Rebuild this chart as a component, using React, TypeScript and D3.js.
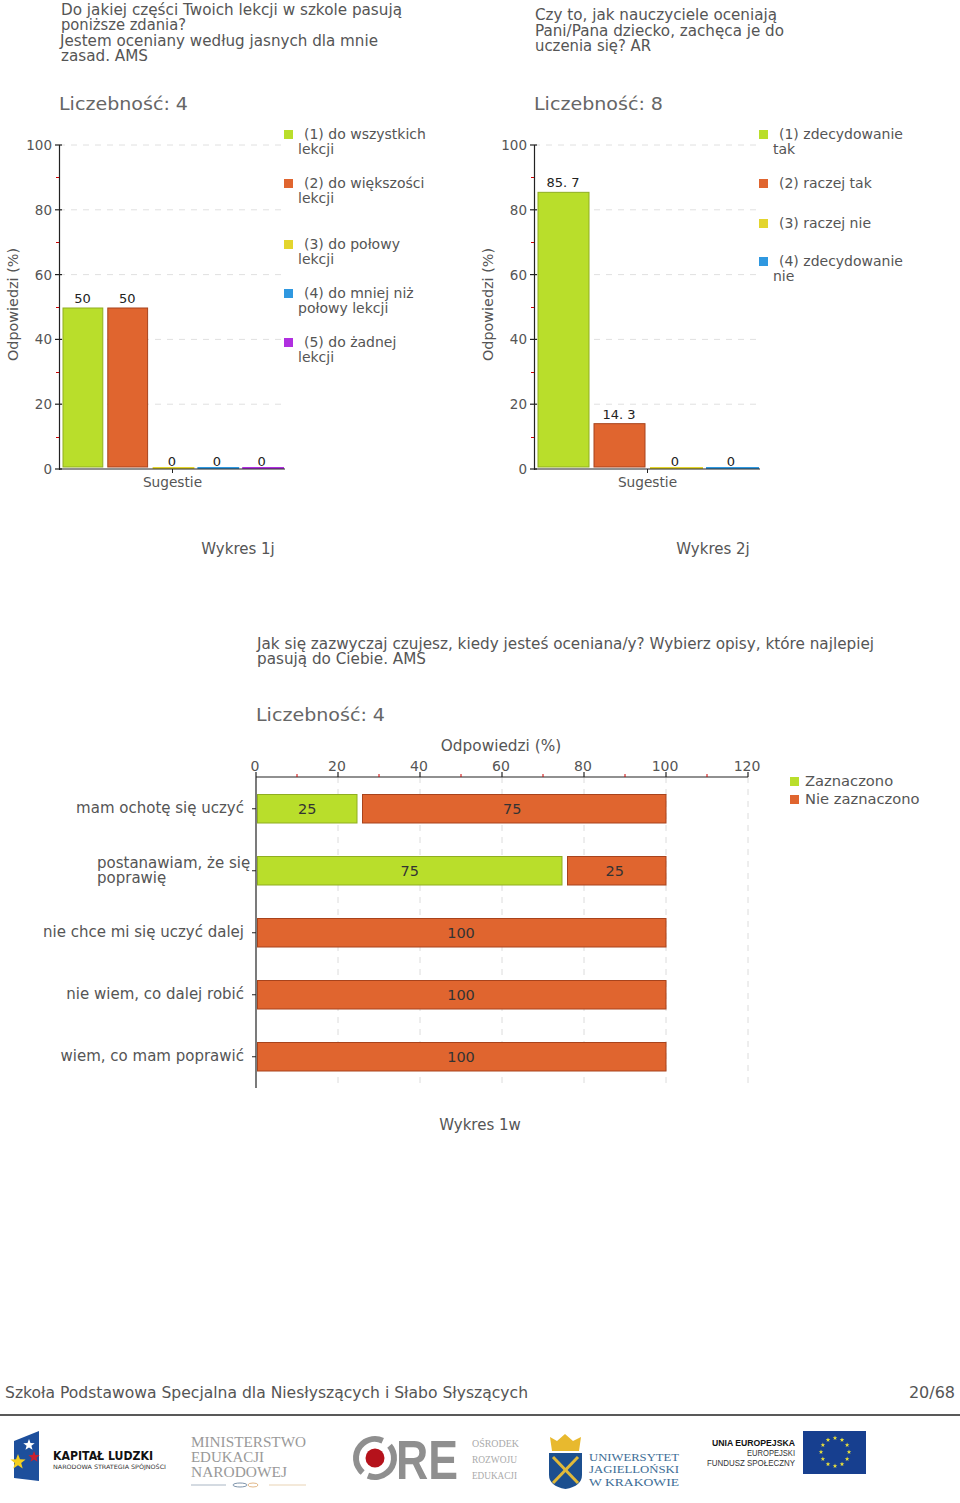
import React from "react";
import * as d3 from "d3";

const FONT = "'DejaVu Sans', Verdana, sans-serif";
const SERIF = "'Liberation Serif', serif";
const GREEN = "#b9de2b", ORANGE = "#e0652f", YELLOW = "#e3d52e", BLUE = "#2f98e0", PURPLE = "#b02fe0";
const GREEN_S = "#8fae20", ORANGE_S = "#a8431c";
const TXT = "#555";

const series1 = ["(1) do wszystkich", "(2) do większości", "(3) do połowy", "(4) do mniej niż", "(5) do żadnej"];
const values1 = [50, 50, 0, 0, 0];
const colors1 = [GREEN, ORANGE, YELLOW, BLUE, PURPLE];
const legend1Second = ["lekcji", "lekcji", "lekcji", "połowy lekcji", "lekcji"];
const legend1Y = [134, 183, 244, 293, 342];

const series2 = ["(1) zdecydowanie", "(2) raczej tak", "(3) raczej nie", "(4) zdecydowanie"];
const values2 = [85.7, 14.3, 0, 0];
const colors2 = [GREEN, ORANGE, YELLOW, BLUE];
const legend2Second = ["tak", "", "", "nie"];
const legend2Y = [134, 183, 223, 261];

const yTicks = [0, 20, 40, 60, 80, 100];
const yMinor = [10, 30, 50, 70, 90];

const cats3 = ["mam ochotę się uczyć", "postanawiam, że się|poprawię", "nie chce mi się uczyć dalej", "nie wiem, co dalej robić", "wiem, co mam poprawić"];
const checked3 = [25, 75, 0, 0, 0];
const unchecked3 = [75, 25, 100, 100, 100];
const xTicks3 = [0, 20, 40, 60, 80, 100, 120];
const xMinor3 = [10, 30, 50, 70, 90, 110];

function T({ x, y, s, size = 15.2, anchor = "start", fill = TXT, w, rot, family = FONT, weight }: any) {
  return (
    <text x={x} y={y} fontSize={size} textAnchor={anchor} fill={fill} fontFamily={family} fontWeight={weight}
      textLength={w} lengthAdjust={w ? "spacingAndGlyphs" : undefined}
      transform={rot ? `rotate(${rot} ${x} ${y})` : undefined}>{s}</text>
  );
}

function VChart({ x0, x1, values, colors, names, seconds, legendY, legendX, count, titleX }: any) {
  const y = d3.scaleLinear().domain([0, 100]).range([469, 145]);
  const band = d3.scaleBand<number>().domain(d3.range(values.length)).range([x0 + 2, x1]).paddingInner(0).paddingOuter(0);
  const mid = (x0 + x1) / 2 + 0.5;
  return (
    <g>
      <T x={titleX} y={110} s={count} size={18} fill="#666" w={129} />
      {yTicks.filter(t => t > 0).map(t => (
        <line key={t} x1={x0} x2={x1} y1={y(t)} y2={y(t)} stroke="#e0e0e0" strokeDasharray="6 6" />
      ))}
      {values.map((v: number, i: number) => {
        const bx = band(i)!, bw = band.bandwidth();
        if (v === 0) {
          return <g key={i}>
            <rect x={bx + 2} y={y(0) - 2} width={bw - 3} height={2} fill={colors[i]} />
            <T x={bx + bw / 2 - 1} y={y(0) - 3} s="0" size={13} anchor="middle" fill="#222" />
          </g>;
        }
        return <g key={i}>
          <rect x={bx + 2} y={y(v) + 1} width={bw - 5} height={y(0) - y(v) - 3} fill={colors[i]} stroke={i === 0 ? GREEN_S : ORANGE_S} strokeWidth={1} />
          <T x={bx + bw / 2 - 1} y={y(v) - 4} s={String(v).replace(".", ". ")} size={13} anchor="middle" fill="#222" />
        </g>;
      })}
      <line x1={x0 + 0.5} x2={x0 + 0.5} y1={145} y2={470} stroke="#222" strokeWidth={1.2} />
      <line x1={x0} x2={x1} y1={469} y2={469} stroke="#222" strokeWidth={1.2} />
      <line x1={mid} x2={mid} y1={469} y2={473} stroke="#222" />
      {yTicks.map(t => (
        <g key={t}>
          <line x1={x0 - 4} x2={x0 + 3} y1={y(t)} y2={y(t)} stroke="#222" strokeWidth={1.2} />
          <T x={x0 - 7} y={y(t) + 5} s={String(t)} size={13.5} anchor="end" />
        </g>
      ))}
      {yMinor.map(t => <line key={t} x1={x0 - 3} x2={x0} y1={Math.round(y(t)) + 0.5} y2={Math.round(y(t)) + 0.5} stroke="#c00" />)}
      <T x={x0 - 41} y={361} s="Odpowiedzi (%)" size={14} rot={-90} w={113} />
      <T x={mid} y={487} s="Sugestie" size={13.7} anchor="middle" />
      {names.map((n: string, i: number) => (
        <g key={i}>
          <rect x={legendX} y={legendY[i] - 4} width={9} height={9} fill={colors[i]} />
          <T x={legendX + 20} y={legendY[i] + 5} s={n} size={14} />
          {seconds[i] && <T x={legendX + 14} y={legendY[i] + 20} s={seconds[i]} size={14} />}
        </g>
      ))}
    </g>
  );
}

function HChart() {
  const x = d3.scaleLinear().domain([0, 120]).range([256, 748]);
  const band = d3.scaleBand<number>().domain(d3.range(cats3.length)).range([777, 1087]);
  return (
    <g>
      <T x={256} y={721} s="Liczebność: 4" size={18} fill="#666" w={129} />
      <T x={501} y={751} s="Odpowiedzi (%)" size={15.3} anchor="middle" />
      {xTicks3.filter(t => t > 0).map(t => (
        <line key={t} x1={x(t)} x2={x(t)} y1={777} y2={1087} stroke="#dcdcdc" strokeDasharray="6 6" />
      ))}
      {cats3.map((c, i) => {
        const by = band(i)! + 17.5, bh = 28.5;
        const g = checked3[i], o = unchecked3[i];
        const lines = c.split("|");
        const cy = by + bh / 2;
        return <g key={i}>
          {g > 0 && <rect x={x(0) + 1.5} y={by} width={x(g) - x(0) - 3} height={bh} fill={GREEN} stroke={GREEN_S} />}
          {g > 0 && <T x={(x(0) + x(g)) / 2} y={cy + 5} s={String(g)} size={14.5} anchor="middle" fill="#333" />}
          <rect x={x(g) + (g > 0 ? 4 : 1.5)} y={by} width={x(g + o) - x(g) - (g > 0 ? 4 : 1.5)} height={bh} fill={ORANGE} stroke={ORANGE_S} />
          <T x={(x(g) + x(g + o)) / 2} y={cy + 5} s={String(o)} size={14.5} anchor="middle" fill="#333" />
          <line x1={x(0) - 4} x2={x(0)} y1={cy} y2={cy} stroke="#222" />
          {lines.length === 1
            ? <T x={244} y={cy + 4} s={lines[0]} size={15} anchor="end" />
            : <>
              <T x={97} y={cy - 3} s={lines[0]} size={15} />
              <T x={97} y={cy + 12} s={lines[1]} size={15} />
            </>}
        </g>;
      })}
      <line x1={256} x2={256} y1={777} y2={1088} stroke="#222" strokeWidth={1.2} />
      <line x1={256} x2={748} y1={777} y2={777} stroke="#222" strokeWidth={1.2} />
      {xTicks3.map(t => (
        <g key={t}>
          <line x1={x(t)} x2={x(t)} y1={772} y2={777} stroke="#222" strokeWidth={1.2} />
          <T x={x(t) - 1} y={771} s={String(t)} size={14} anchor="middle" />
        </g>
      ))}
      {xMinor3.map(t => <line key={t} x1={x(t)} x2={x(t)} y1={774} y2={777} stroke="#c00" />)}
      <rect x={790} y={777} width={9} height={9} fill={GREEN} />
      <T x={805} y={786} s="Zaznaczono" size={14.7} />
      <rect x={790} y={795} width={9} height={9} fill={ORANGE} />
      <T x={805} y={804} s="Nie zaznaczono" size={14.7} />
    </g>
  );
}

function star(cx: number, cy: number, r: number) {
  const pts = d3.range(10).map(i => {
    const a = -Math.PI / 2 + i * Math.PI / 5, q = i % 2 ? r * 0.42 : r;
    return `${cx + q * Math.cos(a)},${cy + q * Math.sin(a)}`;
  });
  return pts.join(" ");
}

function Logos() {
  return (
    <g>
      {/* Kapitał Ludzki */}
      <polygon points="14,1441 39,1431 39,1481 14,1478" fill="#1d4f9c" />
      <polygon points={star(29, 1445, 6)} fill="#fff" />
      <polygon points={star(34, 1457, 6)} fill="#c8202f" />
      <polygon points={star(18, 1462, 8)} fill="#f4cf1f" />
      <T x={53} y={1460} s="KAPITAŁ LUDZKI" size={12} fill="#111" weight="700" w={100} />
      <T x={53} y={1469} s="NARODOWA STRATEGIA SPÓJNOŚCI" size={6} fill="#333" w={113} />
      {/* MEN */}
      <T x={191} y={1447} s="MINISTERSTWO" size={15} fill="#999" family={SERIF} w={115} />
      <T x={191} y={1462} s="EDUKACJI" size={15} fill="#999" family={SERIF} w={73} />
      <T x={191} y={1477} s="NARODOWEJ" size={15} fill="#999" family={SERIF} w={96} />
      <line x1={191} x2={226} y1={1485} y2={1485} stroke="#a9b6c4" />
      <ellipse cx={240} cy={1485} rx={7} ry={2} fill="none" stroke="#7d93aa" />
      <ellipse cx={253} cy={1485} rx={5} ry={2} fill="none" stroke="#e2b98a" />
      <line x1={269} x2={306} y1={1485} y2={1485} stroke="#e9d3b4" />
      {/* ORE */}
      <circle cx={375} cy={1458} r={19} fill="none" stroke="#8f8f8f" strokeWidth={6} strokeDasharray="50 6 54 9" transform="rotate(-40 375 1458)" />
      <circle cx={375} cy={1458} r={9.5} fill="#b5121b" />
      <T x={396} y={1479} s="RE" size={56} fill="#8f8f8f" w={62} family="'Liberation Sans', sans-serif" weight="700" />
      <T x={472} y={1447} s="OŚRODEK" size={10} fill="#aaa" w={47} family={SERIF} />
      <T x={472} y={1463} s="ROZWOJU" size={10} fill="#aaa" w={45} family={SERIF} />
      <T x={472} y={1479} s="EDUKACJI" size={10} fill="#aaa" w={45} family={SERIF} />
      {/* UJ */}
      <polygon points="550,1437 557,1441 565,1434 573,1441 581,1437 579,1451 552,1451" fill="#e8b92e" />
      <path d="M549,1453 H582 V1475 Q582,1486 565.5,1489 Q549,1486 549,1475 Z" fill="#1c4f8f" />
      <line x1={553} x2={578} y1={1457} y2={1483} stroke="#e0b93a" strokeWidth={3} />
      <line x1={578} x2={553} y1={1457} y2={1483} stroke="#e0b93a" strokeWidth={3} />
      <T x={589} y={1461} s="UNIWERSYTET" size={11} fill="#3d6d96" family={SERIF} w={90} />
      <T x={589} y={1473} s="JAGIELLOŃSKI" size={11} fill="#3d6d96" family={SERIF} w={90} />
      <T x={589} y={1486} s="W KRAKOWIE" size={11} fill="#3d6d96" family={SERIF} w={90} />
      {/* EU */}
      <T x={795} y={1446} s="UNIA EUROPEJSKA" size={9} fill="#111" weight="700" anchor="end" w={83} family="'Liberation Sans', sans-serif" />
      <T x={795} y={1456} s="EUROPEJSKI" size={8.5} fill="#333" anchor="end" w={48} family="'Liberation Sans', sans-serif" />
      <T x={795} y={1466} s="FUNDUSZ SPOŁECZNY" size={8.5} fill="#333" anchor="end" w={88} family="'Liberation Sans', sans-serif" />
      <rect x={803} y={1431} width={63} height={43} fill="#173f8f" />
      {d3.range(12).map(i => {
        const a = i * Math.PI / 6;
        return <polygon key={i} points={star(835 + 14 * Math.cos(a), 1452 + 14 * Math.sin(a), 2.4)} fill="#e8df3a" />;
      })}
    </g>
  );
}

export default function App() {
  return (
    <svg width={960} height={1503} style={{ position: "absolute", left: 0, top: 0, background: "#fff" }}>
      <T x={61} y={15} s="Do jakiej części Twoich lekcji w szkole pasują" w={341} />
      <T x={61} y={30} s="poniższe zdania?" w={125} />
      <T x={60} y={46} s="Jestem oceniany według jasnych dla mnie" w={318} />
      <T x={61} y={61} s="zasad. AMS" w={87} />
      <T x={535} y={20} s="Czy to, jak nauczyciele oceniają" w={242} />
      <T x={535} y={36} s="Pani/Pana dziecko, zachęca je do" w={249} />
      <T x={535} y={51} s="uczenia się? AR" w={116} />
      <VChart x0={59} x1={285} values={values1} colors={colors1} names={series1} seconds={legend1Second} legendY={legend1Y} legendX={284} count="Liczebność: 4" titleX={59} />
      <VChart x0={534} x1={760} values={values2} colors={colors2} names={series2} seconds={legend2Second} legendY={legend2Y} legendX={759} count="Liczebność: 8" titleX={534} />
      <T x={238} y={554} s="Wykres 1j" size={15} anchor="middle" />
      <T x={713} y={554} s="Wykres 2j" size={15} anchor="middle" />
      <T x={257} y={649} s="Jak się zazwyczaj czujesz, kiedy jesteś oceniana/y? Wybierz opisy, które najlepiej" w={617} />
      <T x={257} y={664} s="pasują do Ciebie. AMS" w={169} />
      <HChart />
      <T x={480} y={1130} s="Wykres 1w" size={15} anchor="middle" />
      <T x={5} y={1398} s="Szkoła Podstawowa Specjalna dla Niesłyszących i Słabo Słyszących" size={15.6} w={523} />
      <T x={955} y={1398} s="20/68" size={16} anchor="end" />
      <line x1={0} x2={960} y1={1415} y2={1415} stroke="#222" strokeWidth={1.5} />
      <Logos />
    </svg>
  );
}
